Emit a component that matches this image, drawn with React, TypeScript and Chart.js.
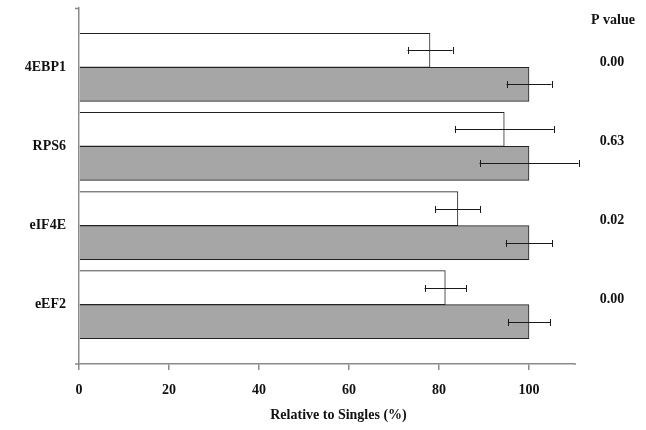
import React, { useEffect, useRef } from "react";
import { Chart, registerables } from "chart.js";

Chart.register(...registerables);

const categories = ["4EBP1", "RPS6", "eIF4E", "eEF2"];
const pairedValues = [78, 94.5, 84.2, 81.4];
const pairedErrors = [5, 11, 5, 4.6];
const singleValues = [100, 100, 100, 100];
const singleErrors = [5, 11, 5.2, 4.7];
const pValues = ["0.00", "0.63", "0.02", "0.00"];
const xTicks = [0, 20, 40, 60, 80, 100];

const FONT = "'Liberation Serif', 'Times New Roman', serif";
const AXIS_COLOR = "#8a8a8a";

const errorBarPlugin = {
  id: "errorBars",
  afterDatasetsDraw(chart: any) {
    const ctx = chart.ctx;
    const xs = chart.scales.x;
    const errs = [pairedErrors, singleErrors];
    ctx.save();
    ctx.strokeStyle = "#1a1a1a";
    ctx.lineWidth = 1;
    chart.data.datasets.forEach((ds: any, di: number) => {
      const meta = chart.getDatasetMeta(di);
      meta.data.forEach((bar: any, i: number) => {
        const v = ds.data[i].x;
        const e = errs[di][i];
        const x1 = xs.getPixelForValue(v - e);
        const x2 = xs.getPixelForValue(v + e);
        const y = Math.round(bar.y) + 0.5;
        ctx.beginPath();
        ctx.moveTo(x1, y);
        ctx.lineTo(x2, y);
        ctx.moveTo(Math.round(x1) + 0.5, y - 3.5);
        ctx.lineTo(Math.round(x1) + 0.5, y + 3.5);
        ctx.moveTo(Math.round(x2) + 0.5, y - 3.5);
        ctx.lineTo(Math.round(x2) + 0.5, y + 3.5);
        ctx.stroke();
      });
    });
    ctx.restore();
  },
};

const annotationPlugin = {
  id: "annotations",
  afterDraw(chart: any) {
    const ctx = chart.ctx;
    const ys = chart.scales.y;
    const area = chart.chartArea;
    ctx.save();
    ctx.fillStyle = "#111";
    ctx.font = `bold 14px ${FONT}`;
    ctx.textAlign = "center";
    ctx.textBaseline = "middle";
    const px = area.right + 38;
    ctx.fillText("P value", px + 1, area.top + 12);
    pValues.forEach((p, i) => {
      ctx.fillText(p, px, ys.getPixelForValue(i + 1) - 5);
    });
    // axis title
    ctx.fillText("Relative to Singles (%)", (area.left + area.right) / 2 + 12, 415);
    // y-axis end tick marks
    ctx.strokeStyle = AXIS_COLOR;
    ctx.lineWidth = 1.5;
    ctx.beginPath();
    ctx.moveTo(area.left - 4, area.top + 0.5);
    ctx.lineTo(area.left, area.top + 0.5);
    ctx.moveTo(area.left - 4, area.bottom);
    ctx.lineTo(area.left, area.bottom);
    ctx.moveTo(area.right, area.bottom);
    ctx.lineTo(area.right + 2, area.bottom);
    ctx.stroke();
    ctx.restore();
  },
};

export default function App() {
  const ref = useRef<HTMLCanvasElement | null>(null);
  useEffect(() => {
    if (!ref.current) return;
    const chart = new Chart(ref.current, {
      type: "bar",
      data: {
        datasets: [
          {
            label: "Paired",
            data: pairedValues.map((v, i) => ({ x: v, y: i + 1 })),
            backgroundColor: "#ffffff",
            borderColor: "#222222",
            borderWidth: 1,
            barThickness: 34,
          },
          {
            label: "Singles",
            data: singleValues.map((v, i) => ({ x: v, y: i + 1 })),
            backgroundColor: "#a6a6a6",
            borderColor: "#222222",
            borderWidth: 1,
            barThickness: 34,
          },
        ],
      },
      options: {
        indexAxis: "y",
        animation: false,
        responsive: false,
        layout: { padding: { top: 8, right: 72, left: 0, bottom: 0 } },
        plugins: { legend: { display: false }, tooltip: { enabled: false } },
        scales: {
          y: {
            type: "linear",
            reverse: true,
            offset: false,
            min: 0.25,
            max: 4.75,
            afterBuildTicks: (s: any) => {
              s.ticks = categories.map((_, i) => ({ value: i + 1 }));
            },
            afterFit: (s: any) => {
              s.width = 79;
              s.paddingTop = 0;
              s.paddingBottom = 0;
            },
            ticks: {
              callback: (v: any) => categories[Math.round(v) - 1] ?? "",
              font: { family: FONT, size: 14, weight: "bold" },
              color: "#111",
              padding: 13,
            },
            grid: { display: false, drawTicks: false, offset: false },
            border: { display: true, color: AXIS_COLOR, width: 1.5 },
          },
          x: {
            type: "linear",
            min: 0,
            max: 110,
            afterBuildTicks: (s: any) => {
              s.ticks = xTicks.map((v) => ({ value: v }));
            },
            afterFit: (s: any) => {
              s.height = 66;
              s.paddingLeft = 0;
              s.paddingRight = 0;
            },
            ticks: {
              font: { family: FONT, size: 14, weight: "bold" },
              color: "#111",
              padding: 12,
            },
            grid: {
              display: true,
              drawOnChartArea: false,
              drawTicks: true,
              tickLength: 6,
              color: AXIS_COLOR,
              lineWidth: 1.5,
            },
            border: { display: true, color: AXIS_COLOR, width: 1.5 },
          },
        },
      },
      plugins: [errorBarPlugin, annotationPlugin],
    } as any);
    return () => chart.destroy();
  }, []);
  return (
    <div style={{ position: "absolute", left: 0, top: 0, width: 646, height: 430, background: "#fff" }}>
      <canvas ref={ref} width={646} height={430} />
    </div>
  );
}
